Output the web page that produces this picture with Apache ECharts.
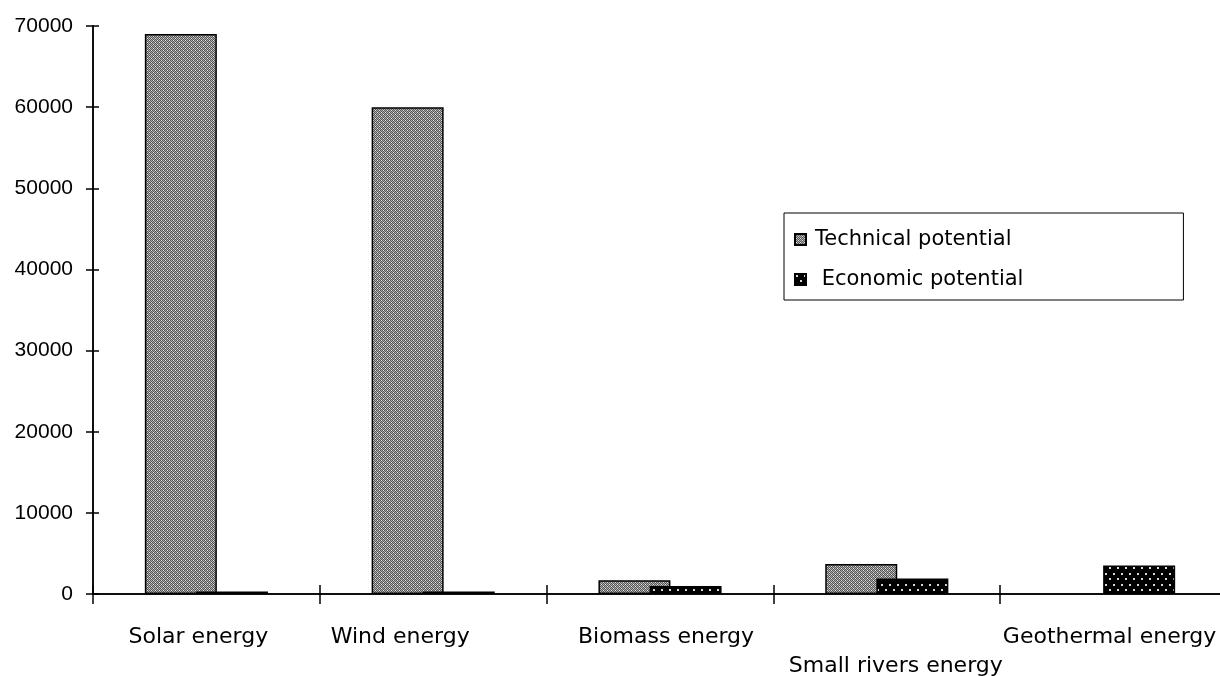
<!DOCTYPE html>
<html>
<head>
<meta charset="utf-8">
<title>Renewable energy potential</title>
<script src="https://cdn.jsdelivr.net/npm/echarts@6/dist/echarts.min.js"></script>
<style>
  html, body { margin: 0; padding: 0; background: #ffffff; }
  #chart { width: 1220px; height: 676px; }
</style>
</head>
<body>
<div id="chart"></div>
<script>
// Energy sources and their potentials
const categories = ['Solar energy', 'Wind energy', 'Biomass energy', 'Small rivers energy', 'Geothermal energy'];
const technicalPotential = [69000, 60000, 1700, 3700, 0];
const economicPotential = [300, 300, 1000, 1900, 3500];
const seriesNames = ['Technical potential', ' Economic potential'];
const yMin = 0;
const yMax = 70000;
const yStep = 10000;

// Label nudges (horizontal px, vertical px) for the category captions
const labelNudge = [[-8, 0], [-33, 0], [6, 0], [9, 29], [-4, 0]];

// Dithered grey fill for technical potential
function makeGreyPattern() {
  const c = document.createElement('canvas');
  c.width = 4; c.height = 4;
  const g = c.getContext('2d');
  g.fillStyle = '#adadad';
  g.fillRect(0, 0, 4, 4);
  g.fillStyle = '#555555';
  for (let y = 0; y < 4; y++) {
    for (let x = 0; x < 4; x++) {
      if ((x + y) % 2 === 0) g.fillRect(x, y, 1, 1);
    }
  }
  g.fillStyle = '#e6e6e6';
  g.fillRect(1, 0, 1, 1);
  g.fillRect(3, 2, 1, 1);
  return c;
}

// Black fill with staggered light dots for economic potential
function makeDotPattern() {
  const c = document.createElement('canvas');
  c.width = 8; c.height = 11;
  const g = c.getContext('2d');
  g.fillStyle = '#000000';
  g.fillRect(0, 0, 8, 11);
  g.fillStyle = '#d8d8d8';
  g.fillRect(1, 1, 2, 2);
  g.fillRect(5, 6, 2, 2);
  return c;
}

const greyFill = { image: makeGreyPattern(), repeat: 'repeat' };
const dotFill = { image: makeDotPattern(), repeat: 'repeat' };

// Zero-height bars get no outline so nothing is drawn for them
function barData(values) {
  return values.map(function (v) {
    return v === 0 ? { value: v, itemStyle: { borderWidth: 0 } } : v;
  });
}

const rich = {};
labelNudge.forEach(function (n, i) {
  const dx = n[0], dy = n[1];
  rich['c' + i] = {
    fontFamily: 'DejaVu Sans',
    fontSize: 22,
    color: '#000',
    lineHeight: 24,
    padding: [2 * dy, dx < 0 ? -2 * dx : 0, 0, dx > 0 ? 2 * dx : 0]
  };
});

const chart = echarts.init(document.getElementById('chart'), null, { renderer: 'canvas' });

const axisLine = { show: true, lineStyle: { color: '#000', width: 1.5 } };
const tickStyle = { color: '#000', width: 1.5 };
// Plot area; a second, identical grid carries the inward half of the tick marks
const plotArea = { left: 93, top: 26, width: 1134, height: 568, containLabel: false, outerBoundsMode: 'none' };

chart.setOption({
  backgroundColor: '#ffffff',
  animation: false,
  grid: [Object.assign({}, plotArea), Object.assign({}, plotArea)],
  legend: {
    orient: 'vertical',
    left: 784,
    top: 213,
    backgroundColor: '#ffffff',
    borderColor: '#000',
    borderWidth: 1,
    borderRadius: 0,
    padding: [16, 160, 10, 10],
    itemGap: 19,
    itemWidth: 11,
    itemHeight: 11,
    icon: 'rect',
    textStyle: { fontFamily: 'DejaVu Sans', fontSize: 21, color: '#000', padding: [0, 0, 0, 4] },
    data: seriesNames
  },
  xAxis: [
    {
      gridIndex: 0,
      type: 'category',
      data: categories,
      boundaryGap: true,
      axisLine: axisLine,
      axisTick: { show: true, inside: false, length: 10, lineStyle: tickStyle },
      axisLabel: {
        interval: 0,
        margin: 31,
        formatter: function (v, i) { return '{c' + i + '|' + v + '}'; },
        rich: rich
      },
      splitLine: { show: false }
    },
    {
      gridIndex: 1,
      type: 'category',
      data: categories,
      position: 'bottom',
      boundaryGap: true,
      axisLine: axisLine,
      axisTick: { show: true, inside: true, length: 9, interval: 0, lineStyle: tickStyle },
      axisLabel: { show: false },
      splitLine: { show: false }
    }
  ],
  yAxis: [
    {
      gridIndex: 0,
      type: 'value',
      min: yMin,
      max: yMax,
      interval: yStep,
      axisLine: axisLine,
      axisTick: { show: true, inside: false, length: 7, lineStyle: tickStyle },
      axisLabel: {
        margin: 20,
        fontFamily: 'Liberation Sans',
        fontSize: 21,
        color: '#000',
        formatter: function (v) { return String(v); }
      },
      splitLine: { show: false }
    },
    {
      gridIndex: 1,
      type: 'value',
      min: yMin,
      max: yMax,
      interval: yStep,
      position: 'left',
      axisLine: axisLine,
      axisTick: { show: true, inside: true, length: 6, lineStyle: tickStyle },
      axisLabel: { show: false },
      splitLine: { show: false }
    }
  ],
  series: [
    {
      name: seriesNames[0],
      type: 'bar',
      xAxisIndex: 0,
      yAxisIndex: 0,
      data: barData(technicalPotential),
      barWidth: 72,
      barGap: '-29%',
      itemStyle: { color: greyFill, borderColor: '#000', borderWidth: 1.5 }
    },
    {
      name: seriesNames[1],
      type: 'bar',
      xAxisIndex: 0,
      yAxisIndex: 0,
      data: barData(economicPotential),
      barWidth: 72,
      barGap: '-29%',
      itemStyle: { color: dotFill, borderColor: '#000', borderWidth: 1.5 }
    },
    {
      // binds the tick-only axes of the second grid; draws nothing
      type: 'line',
      xAxisIndex: 1,
      yAxisIndex: 1,
      data: [],
      silent: true,
      showSymbol: false,
      lineStyle: { opacity: 0 }
    }
  ]
});
</script>
</body>
</html>
